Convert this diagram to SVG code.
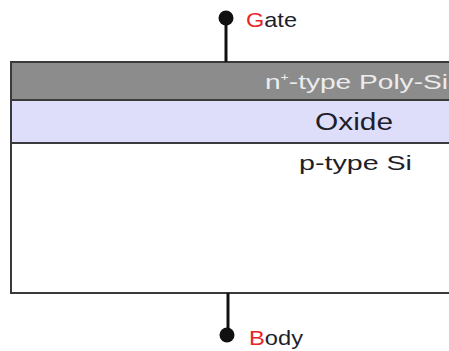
<svg xmlns="http://www.w3.org/2000/svg" width="449" height="351" viewBox="0 0 449 351">
  <style>
    .edge { stroke: #3a3a3a; stroke-width: 2; fill: none; }
    .lbl { font-family: "Liberation Sans", Arial, sans-serif; fill: #1e1e2a; }
    .red { fill: #e8262a; }
    .wire { stroke: #111; stroke-width: 3; }
    .pin { fill: #111; }
  </style>

  <!-- MOS stack -->
  <g id="poly">
    <rect x="11" y="62" width="450" height="38" fill="#8c8c8c"/>
    <text class="lbl" x="265" y="89" font-size="20" style="fill:#ececec" textLength="183" lengthAdjust="spacingAndGlyphs">n<tspan font-size="10" dy="-8">+</tspan><tspan dy="8">-type Poly-Si</tspan></text>
  </g>
  <g id="oxide">
    <rect x="11" y="100" width="450" height="43" fill="#dedefa"/>
    <text class="lbl" x="315" y="130" font-size="23" textLength="78" lengthAdjust="spacingAndGlyphs">Oxide</text>
  </g>
  <g id="substrate">
    <rect x="11" y="143" width="450" height="150" fill="#ffffff"/>
    <text class="lbl" x="299" y="170" font-size="20" textLength="113" lengthAdjust="spacingAndGlyphs">p-type Si</text>
  </g>
  <g id="outline">
    <path class="edge" d="M461 62 H11 V293 H461"/>
    <line class="edge" x1="11" y1="100" x2="461" y2="100"/>
    <line class="edge" x1="11" y1="143" x2="461" y2="143"/>
  </g>

  <!-- terminals -->
  <g id="connectors">
    <line class="wire" x1="226" y1="18" x2="226" y2="62"/>
    <line class="wire" x1="228" y1="293" x2="228" y2="335"/>
  </g>
  <g id="gate">
    <circle class="pin" cx="226" cy="18" r="7.5"/>
    <text class="lbl" x="246" y="27" font-size="21" textLength="51" lengthAdjust="spacingAndGlyphs"><tspan class="red">G</tspan>ate</text>
  </g>
  <g id="body">
    <circle class="pin" cx="227" cy="335" r="7.5"/>
    <text class="lbl" x="249" y="345" font-size="21" textLength="54" lengthAdjust="spacingAndGlyphs"><tspan class="red">B</tspan>ody</text>
  </g>
</svg>
